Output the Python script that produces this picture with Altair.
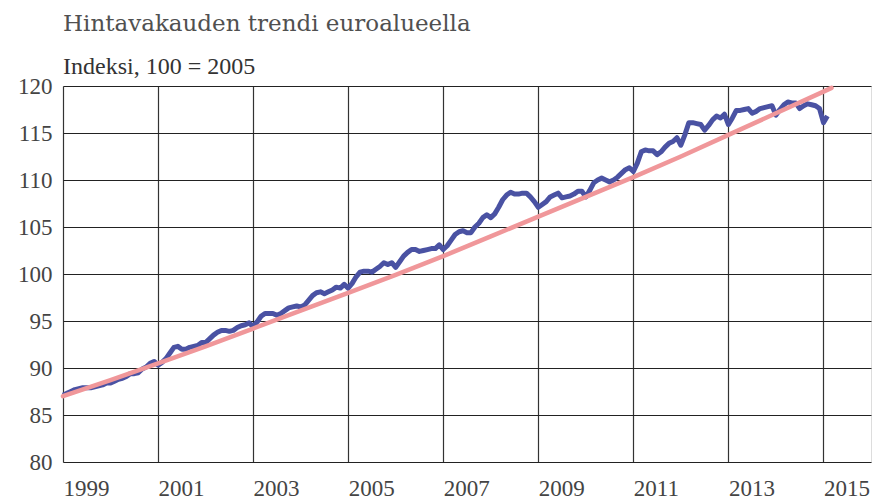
import altair as alt
import pandas as pd

# Monthly index values, Jan 1999 .. Feb 2015
y1999 = [87.1, 87.3, 87.5, 87.7, 87.8, 87.9, 87.9, 87.9, 88.0, 88.1, 88.2, 88.4]
y2000 = [88.4, 88.6, 88.8, 88.9, 89.1, 89.4, 89.4, 89.5, 89.9, 90.1, 90.5, 90.7]
y2001 = [90.3, 90.6, 91.0, 91.6, 92.2, 92.3, 92.0, 92.0, 92.2, 92.3, 92.4, 92.7]
y2002 = [92.7, 93.1, 93.5, 93.8, 94.0, 94.0, 93.9, 94.0, 94.3, 94.5, 94.6, 94.8]
y2003 = [94.4, 94.9, 95.5, 95.8, 95.8, 95.8, 95.6, 95.8, 96.1, 96.4, 96.5, 96.6]
y2004 = [96.5, 96.7, 97.2, 97.7, 98.0, 98.1, 97.9, 98.1, 98.3, 98.6, 98.5, 98.9]
y2005 = [98.5, 99.0, 99.7, 100.2, 100.3, 100.3, 100.2, 100.5, 100.8, 101.2, 101.0, 101.2]
y2006 = [100.7, 101.3, 101.9, 102.3, 102.6, 102.6, 102.4, 102.5, 102.6, 102.7, 102.7, 103.1]
y2007 = [102.6, 103.0, 103.6, 104.2, 104.5, 104.6, 104.4, 104.4, 105.0, 105.4, 106.0, 106.3]
y2008 = [106.0, 106.4, 107.1, 107.9, 108.4, 108.7, 108.5, 108.5, 108.6, 108.6, 108.2, 107.7]
y2009 = [107.1, 107.4, 107.7, 108.2, 108.4, 108.6, 108.1, 108.2, 108.3, 108.5, 108.8, 108.8]
y2010 = [108.2, 108.9, 109.7, 110.0, 110.2, 110.0, 109.8, 110.0, 110.3, 110.7, 111.1, 111.3]
y2011 = [110.9, 111.8, 113.0, 113.2, 113.1, 113.1, 112.7, 113.0, 113.5, 113.9, 114.1, 114.5]
y2012 = [113.7, 114.8, 116.1, 116.1, 116.0, 115.9, 115.3, 115.8, 116.4, 116.8, 116.6, 117.0]
y2013 = [115.9, 116.6, 117.4, 117.4, 117.5, 117.6, 117.1, 117.3, 117.6, 117.7, 117.8, 117.9]
y2014 = [116.9, 117.5, 118.0, 118.3, 118.2, 118.2, 117.6, 117.9, 118.1, 118.0, 117.9, 117.6]
y2015 = [116.1, 116.8]

# 2 % trend line
trend_x = [1999, 2000, 2001, 2002, 2003, 2004, 2005, 2006, 2007, 2008,
           2009, 2010, 2011, 2012, 2013, 2014, 2015, 2015.17]
trend_y = [87.0, 88.7, 90.5, 92.3, 94.2, 96.1, 98.0, 99.9, 101.9, 104.0,
           106.1, 108.2, 110.3, 112.5, 114.8, 117.1, 119.4, 119.8]

x_ticks = [1999, 2001, 2003, 2005, 2007, 2009, 2011, 2013, 2015]
y_ticks = [80, 85, 90, 95, 100, 105, 110, 115, 120]

monthly = (y1999 + y2000 + y2001 + y2002 + y2003 + y2004 + y2005 + y2006 +
           y2007 + y2008 + y2009 + y2010 + y2011 + y2012 + y2013 + y2014 + y2015)
df_hicp = pd.DataFrame({"x": [1999 + i / 12 for i in range(len(monthly))], "y": monthly})
df_trend = pd.DataFrame({"x": trend_x, "y": trend_y})

FONT = "Liberation Serif"

x_enc = alt.X("x:Q",
              scale=alt.Scale(domain=[1999, 2016], nice=False, zero=False),
              axis=alt.Axis(values=x_ticks, format="d", title=None,
                            labelAlign="left", labelBaseline="top", labelPadding=15,
                            labelFlush=False, labelOverlap=False, labelBound=False,
                            ticks=False, domain=False, grid=True,
                            gridColor="#333333", gridWidth=1.2,
                            labelFont=FONT, labelFontSize=23, labelColor="#444444"))
y_enc = alt.Y("y:Q",
              scale=alt.Scale(domain=[80, 120], nice=False, zero=False),
              axis=alt.Axis(values=y_ticks, title=None, labelPadding=11,
                            ticks=False, domain=False, grid=True,
                            gridColor="#222222", gridWidth=1,
                            labelFont=FONT, labelFontSize=23, labelColor="#444444"))

blue = alt.Chart(df_hicp).mark_line(color="#4a52a3", strokeWidth=5,
                                    strokeJoin="round").encode(x=x_enc, y=y_enc)
pink = alt.Chart(df_trend).mark_line(color="#f0979a", strokeWidth=4.5,
                                     strokeCap="round").encode(x="x:Q", y="y:Q")

chart = alt.layer(blue, pink).properties(
    width=808, height=376,
    autosize=alt.AutoSizeParams(type="none"),
    padding={"left": 55, "top": 78, "right": 1, "bottom": 39},
    title=alt.Title("Hintavakauden trendi euroalueella",
                    subtitle="Indeksi, 100 = 2005",
                    anchor="start", frame="group",
                    font="DejaVu Serif", fontSize=23, fontWeight="normal", color="#505050",
                    subtitleFont=FONT, subtitleFontSize=24, subtitleColor="#333333",
                    subtitlePadding=19, offset=-4),
).configure_view(stroke="#444444", strokeWidth=2).configure(background="white")

chart.save("out.html", embed_options={"renderer": "svg", "actions": False})
